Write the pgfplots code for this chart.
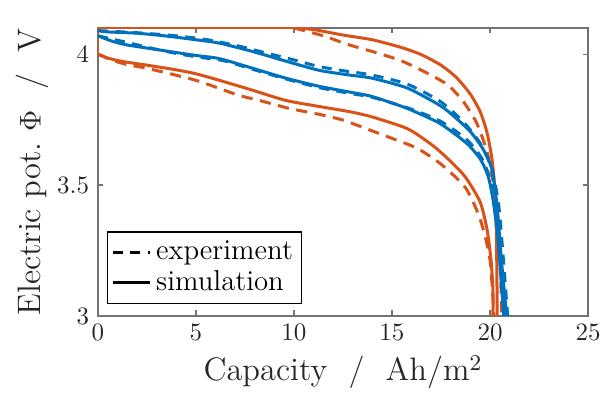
\documentclass[border=0pt]{standalone}
\usepackage{pgfplots}
\pgfplotsset{compat=1.18}

\definecolor{mblue}{rgb}{0,0.447,0.741}
\definecolor{morange}{rgb}{0.85,0.325,0.098}
\definecolor{axgray}{rgb}{0.15,0.15,0.15}

\begin{document}
\begin{tikzpicture}
\begin{axis}[
	name=ax,
	scale only axis,
	width=196pt,
	height=115.2pt,
	xmin=0, xmax=25,
	ymin=3, ymax=4.1,
	xtick={0,5,...,25},
	ytick={3,3.5,4},
	tick align=inside,
	major tick length=2.2pt,
	axis line style={black!55, line width=0.5pt},
	tick style={black!55, line width=0.5pt},
	tick label style={font=\fontsize{10}{12}\selectfont, text=axgray},
	label style={font=\fontsize{13}{15}\selectfont, text=axgray},
	xlabel={Capacity~~/~~Ah/m$^2$},
	ylabel={Electric pot.~$\Phi$~~/~~V},
	xlabel style={yshift=1pt},
	ylabel style={yshift=-3.5pt},
	legend style={at={(axis description cs:0.018,0.042)}, anchor=south west,
		draw=black, line width=0.5pt, font=\fontsize{11.5}{12.5}\selectfont,
		inner sep=1.5pt, row sep=-1pt},
	legend cell align=left,
	legend image code/.code={\draw[#1] (0cm,0cm) -- (0.52cm,0cm);},
	every axis plot/.append style={line width=1.2pt},
	clip=true,
]
\addlegendimage{black, line width=1.2pt, dash pattern=on 4pt off 3pt}
\addlegendimage{black, line width=1.2pt}

% orange, experiment
\addplot[morange, smooth, tension=0.4, dash pattern=on 4.5pt off 3pt, forget plot] coordinates {
(10,4.1) (11.5,4.07) (12.7,4.038) (14,4.01) (15.4,3.977) (16.6,3.935) (17.8,3.885)
(18.6,3.823) (19.3,3.74) (19.8,3.64) (20.1,3.54) (20.35,3.41) (20.5,3.25) (20.6,3.0)};
\addplot[morange, smooth, tension=0.4, dash pattern=on 4.5pt off 3pt, forget plot] coordinates {
(0,4.0) (0.8,3.975) (1.6,3.958) (2.5,3.946) (5,3.9) (7.1,3.845) (8.4,3.82)
(9.8,3.792) (11.3,3.77) (12.5,3.748) (13.7,3.715) (15.05,3.677) (16.3,3.64)
(17.5,3.58) (18.75,3.49) (19.5,3.37) (20.0,3.215) (20.2,3.0)};

% orange, simulation
\addplot[morange, forget plot] coordinates {(0,4.0) (0,4.1) (10,4.1)};
\addplot[morange, smooth, tension=0.4, forget plot] coordinates {
(10,4.1) (11,4.094) (12.5,4.073) (14,4.055) (15.5,4.025) (16.5,3.998) (17.5,3.958)
(18.3,3.91) (19.0,3.847) (19.5,3.78) (19.85,3.70) (20.1,3.6) (20.25,3.48)
(20.33,3.3) (20.37,3.0)};
\addplot[morange, smooth, tension=0.4, forget plot] coordinates {
(0,4.0) (0.5,3.985) (1.25,3.972) (2.5,3.958) (4,3.94) (5,3.925) (6.2,3.9)
(7.9,3.862) (9.6,3.823) (11.3,3.8) (12.86,3.78) (14,3.76) (15.8,3.715)
(17.1,3.65) (18,3.59) (18.75,3.53) (19.5,3.435) (19.85,3.33) (20.05,3.215)
(20.15,3.1) (20.15,3.0)};

% blue, experiment
\addplot[mblue, smooth, tension=0.4, dash pattern=on 4pt off 3pt, forget plot] coordinates {
(0,4.09) (2,4.082) (4,4.07) (5.6,4.055) (7.24,4.03) (8.6,4.004) (9.9,3.98)
(11.2,3.954) (12.5,3.937) (14,3.92) (15.8,3.885) (17.45,3.82) (18.6,3.745)
(19.5,3.66) (20.1,3.56) (20.45,3.42) (20.7,3.2) (20.9,3.0)};
\addplot[mblue, smooth, tension=0.4, dash pattern=on 4pt off 3pt, forget plot] coordinates {
(0,4.07) (1.3,4.048) (3.5,4.01) (5,3.99) (6.4,3.975) (7.9,3.942) (9.6,3.905)
(11.3,3.872) (12.86,3.85) (14,3.835) (15.8,3.795) (17.45,3.745) (18.8,3.675)
(19.6,3.6) (20.1,3.5) (20.4,3.35) (20.6,3.15) (20.75,3.0)};

% blue, simulation
\addplot[mblue, smooth, tension=0.4, forget plot] coordinates {
(0,4.09) (0.5,4.085) (2.0,4.08) (3.4,4.07) (5,4.055) (6.2,4.042) (7.9,4.01)
(9.6,3.973) (11.3,3.938) (12.86,3.92) (14,3.908) (15.8,3.87) (17.45,3.804)
(18.2,3.76) (19.0,3.704) (19.64,3.638) (20.1,3.56) (20.36,3.42) (20.6,3.2)
(20.85,3.0)};
\addplot[mblue, smooth, tension=0.4, forget plot] coordinates {
(0,4.07) (0.7,4.05) (1.5,4.035) (3.5,4.012) (5,3.995) (6.2,3.983) (7.9,3.946)
(9.6,3.908) (11.3,3.877) (12.86,3.855) (14,3.838) (15.8,3.792) (17.45,3.735)
(18.8,3.66) (19.5,3.6) (19.9,3.535) (20.15,3.446) (20.4,3.3) (20.6,3.1)
(20.7,3.0)};

\legend{experiment,simulation}
\end{axis}
\pgfresetboundingbox
\path[use as bounding box] ([xshift=-39.2pt,yshift=-36pt]ax.south west)
	rectangle ([xshift=11.2pt,yshift=11.2pt]ax.north east);
\end{tikzpicture}
\end{document}
